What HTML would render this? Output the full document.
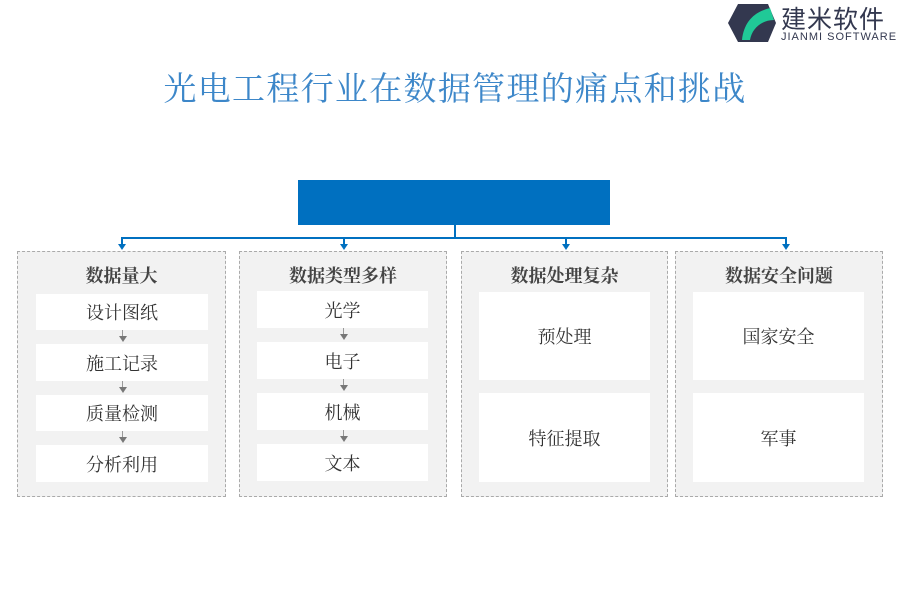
<!DOCTYPE html><html><head><meta charset="utf-8"><style>
body{margin:0;width:900px;height:600px;background:#fff;position:relative;overflow:hidden;font-family:"Liberation Serif","Noto Serif CJK SC",serif;color:#333}
.a{position:absolute}
.t{left:0;width:910px;top:63px;text-align:center;font-size:33px;color:#3d87c9;letter-spacing:1.3px}
.p{position:absolute;top:251px;height:246px;background:#f2f2f2;border:1px dashed #aaa;box-sizing:border-box}
.h{position:absolute;left:0;right:0;top:10px;text-align:center;font-size:18px;font-weight:bold;color:#444}
.i{position:absolute;background:#fff;display:flex;align-items:center;justify-content:center;font-size:18px;color:#333}
.ar{position:absolute;width:0;height:0;border-left:4px solid transparent;border-right:4px solid transparent;border-top:6px solid #777}
.ln{position:absolute;width:1px;background:#999}
</style></head><body>
<div class="a" style="left:726px;top:2px;width:50px;height:40px">
<svg width="50" height="42"><polygon points="12,2 42,2 50,21 42,40 12,40 2,21" fill="#33384f"/><path d="M16,38 C18,20 28,10 44,6 L48,18 C36,18 26,26 24,38Z" fill="#20c997"/></svg></div>
<div class="a" style="left:781px;top:0px;font-family:'Liberation Sans','Noto Sans CJK SC',sans-serif;font-size:25px;color:#33384f;letter-spacing:1px">建米软件</div>
<div class="a" style="left:781px;top:31px;font-family:'Liberation Sans',sans-serif;font-size:11px;color:#33384f;letter-spacing:1px">JIANMI SOFTWARE</div>
<div class="a t">光电工程行业在数据管理的痛点和挑战</div>
<div class="a" style="left:298px;top:180px;width:312px;height:45px;background:#0070c0"></div>
<div class="a" style="left:454px;top:225px;width:2px;height:13px;background:#0070c0"></div>
<div class="a" style="left:121px;top:237px;width:666px;height:2px;background:#0070c0"></div>
<div class="a" style="left:121px;top:237px;width:2px;height:8px;background:#0070c0"></div>
<div class="a" style="left:343px;top:237px;width:2px;height:8px;background:#0070c0"></div>
<div class="a" style="left:565px;top:237px;width:2px;height:8px;background:#0070c0"></div>
<div class="a" style="left:785px;top:237px;width:2px;height:8px;background:#0070c0"></div>
<div class="ar" style="left:118px;top:244px;border-top-color:#0070c0"></div>
<div class="ar" style="left:340px;top:244px;border-top-color:#0070c0"></div>
<div class="ar" style="left:562px;top:244px;border-top-color:#0070c0"></div>
<div class="ar" style="left:782px;top:244px;border-top-color:#0070c0"></div>

<div class="p" style="left:17px;width:209px"><div class="h">数据量大</div></div>
<div class="i" style="left:36px;top:294px;width:172px;height:36px">设计图纸</div>
<div class="i" style="left:36px;top:344px;width:172px;height:37px">施工记录</div>
<div class="i" style="left:36px;top:395px;width:172px;height:36px">质量检测</div>
<div class="i" style="left:36px;top:445px;width:172px;height:37px">分析利用</div>
<div class="ln" style="left:122px;top:330px;height:8px"></div><div class="ar" style="left:119px;top:336px"></div>
<div class="ln" style="left:122px;top:381px;height:8px"></div><div class="ar" style="left:119px;top:387px"></div>
<div class="ln" style="left:122px;top:431px;height:8px"></div><div class="ar" style="left:119px;top:437px"></div>

<div class="p" style="left:239px;width:208px"><div class="h">数据类型多样</div></div>
<div class="i" style="left:257px;top:291px;width:171px;height:37px">光学</div>
<div class="i" style="left:257px;top:342px;width:171px;height:37px">电子</div>
<div class="i" style="left:257px;top:393px;width:171px;height:37px">机械</div>
<div class="i" style="left:257px;top:444px;width:171px;height:37px">文本</div>
<div class="ln" style="left:343px;top:328px;height:8px"></div><div class="ar" style="left:340px;top:334px"></div>
<div class="ln" style="left:343px;top:379px;height:8px"></div><div class="ar" style="left:340px;top:385px"></div>
<div class="ln" style="left:343px;top:430px;height:8px"></div><div class="ar" style="left:340px;top:436px"></div>

<div class="p" style="left:461px;width:207px"><div class="h">数据处理复杂</div></div>
<div class="i" style="left:479px;top:292px;width:171px;height:88px">预处理</div>
<div class="i" style="left:479px;top:393px;width:171px;height:89px">特征提取</div>

<div class="p" style="left:675px;width:208px"><div class="h">数据安全问题</div></div>
<div class="i" style="left:693px;top:292px;width:171px;height:88px">国家安全</div>
<div class="i" style="left:693px;top:393px;width:171px;height:89px">军事</div>
</body></html>
